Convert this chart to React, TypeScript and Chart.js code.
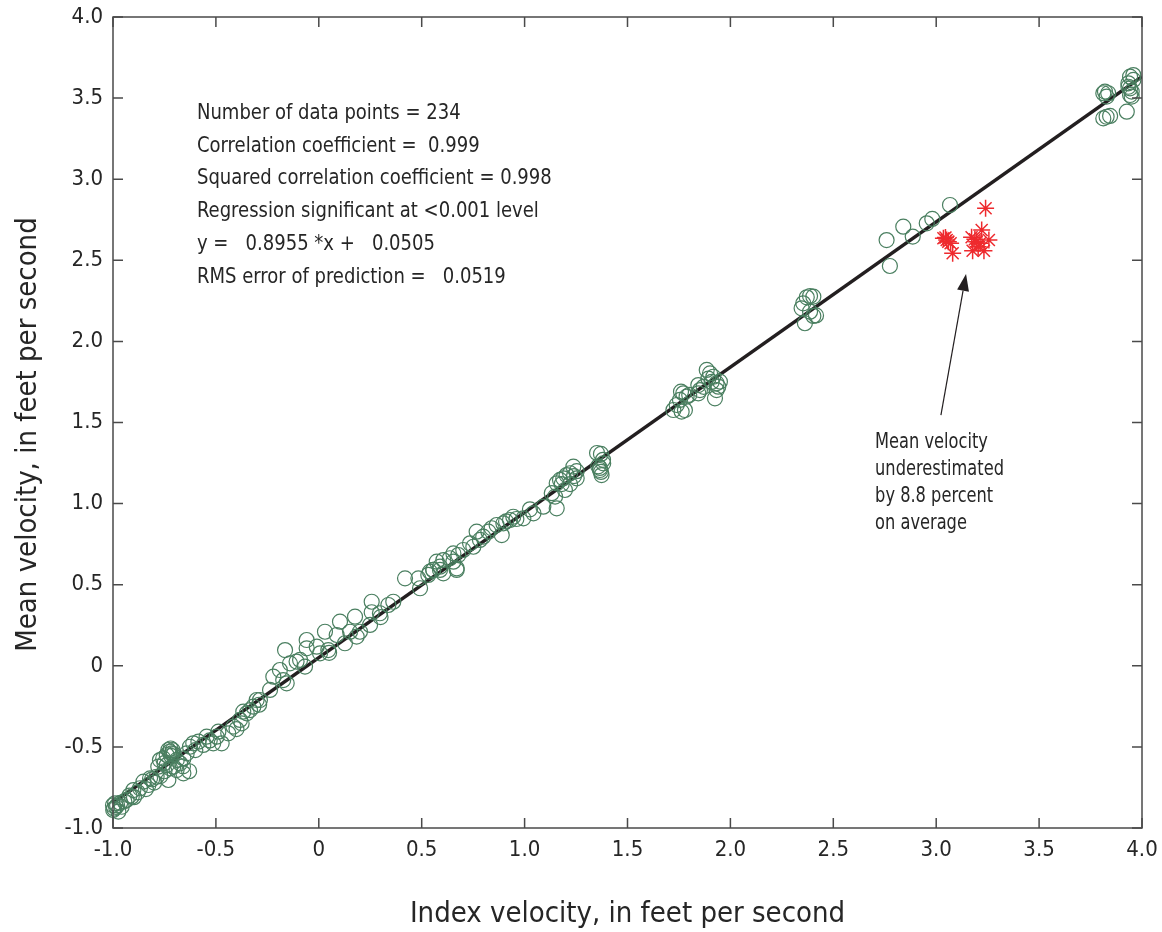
import React, { useEffect, useRef } from "react";
import { Chart, registerables } from "chart.js";

Chart.register(...registerables);

// ---- data ----
const greenX: number[] = [
  3.820, 3.836, 3.812, 3.828, 3.812, 3.828, 3.845, 3.926, 3.942, 3.958, 3.934, 3.942, 3.950, 3.942, 3.950, 3.934, 3.958,
  2.759, 2.775, 2.840, 2.886, 2.954, 2.981, 3.067,
  2.354, 2.387, 2.403, 2.346, 2.362, 2.403, 2.387, 2.371, 2.416,
  1.723, 1.739, 1.755, 1.771, 1.779, 1.763, 1.787, 1.800, 1.844, 1.852, 1.844, 1.885, 1.901, 1.917, 1.933, 1.925, 1.941, 1.893, 1.909, 1.949, 1.933, 1.760, 1.870,
  1.352, 1.371, 1.381, 1.366, 1.371, 1.366, 1.382, 1.374, 1.358,
  1.148, 1.156, 1.132, 1.156, 1.172, 1.188, 1.204, 1.221, 1.237, 1.253, 1.196, 1.221, 1.253, 1.180, 1.240,
  1.091, 1.043, 1.026, 0.994, 0.945, 0.929, 0.897, 0.864, 0.889, 0.840, 0.824, 0.767, 0.799, 0.783, 0.735, 0.751, 0.702, 0.678, 0.654, 0.637, 0.670, 0.605, 0.573, 0.589, 0.556, 0.540, 0.960, 0.910,
  -0.367, -0.334, -0.375, -0.286, -0.237, -0.221, -0.173, -0.189, -0.164, -0.140, -0.091, -0.067, -0.059, -0.059, -0.010, 0.006, 0.030, 0.046, 0.050, 0.087, 0.103, 0.127, 0.152, 0.176, 0.184, 0.200, 0.249, 0.257, 0.257, 0.297, 0.300, 0.338, 0.362, 0.419, 0.484, 0.492, 0.532, 0.556, 0.589, 0.605, 0.654, 0.670, -0.156, -0.108,
  -0.999, -0.990, -0.985, -0.974, -1.000, -0.958, -0.934, -0.909, -0.898, -0.901, -0.869, -0.852, -0.828, -0.820, -0.800, -0.788, -0.780, -0.772, -0.756, -0.739, -0.731, -0.720, -0.715, -0.710, -0.739, -0.723, -0.707, -0.731, -0.750, -0.691, -0.674, -0.658, -0.642, -0.626, -0.610, -0.600, -0.585, -0.561, -0.545, -0.530, -0.513, -0.496, -0.488, -0.472, -0.440, -0.415, -0.400, -0.383, -0.350, -0.318, -0.302, -0.290, -0.658, -0.630, -0.725, -0.718, -0.705, -0.995, -0.980, -0.965, -0.945, -0.920, -0.880, -0.840, -0.810, -0.770, -0.750, -0.690, -0.660,
];
const greenY: number[] = [
  3.540, 3.530, 3.530, 3.509, 3.375, 3.385, 3.390, 3.416, 3.632, 3.642, 3.591, 3.560, 3.540, 3.519, 3.509, 3.570, 3.612,
  2.625, 2.465, 2.707, 2.646, 2.728, 2.755, 2.841,
  2.235, 2.280, 2.276, 2.204, 2.112, 2.157, 2.183, 2.272, 2.160,
  1.577, 1.608, 1.639, 1.680, 1.577, 1.567, 1.659, 1.670, 1.731, 1.700, 1.680, 1.824, 1.803, 1.782, 1.742, 1.649, 1.721, 1.770, 1.750, 1.752, 1.700, 1.690, 1.720,
  1.312, 1.306, 1.270, 1.220, 1.195, 1.207, 1.248, 1.176, 1.230,
  1.043, 0.971, 1.064, 1.125, 1.146, 1.156, 1.176, 1.187, 1.228, 1.156, 1.084, 1.120, 1.200, 1.120, 1.170,
  0.981, 0.940, 0.965, 0.909, 0.919, 0.899, 0.878, 0.868, 0.806, 0.848, 0.827, 0.827, 0.796, 0.776, 0.755, 0.734, 0.714, 0.683, 0.693, 0.663, 0.601, 0.652, 0.642, 0.591, 0.591, 0.580, 0.905, 0.890,
  -0.283, -0.273, -0.355, -0.211, -0.149, -0.067, -0.088, -0.026, 0.097, 0.015, 0.036, -0.005, 0.159, 0.108, 0.118, 0.077, 0.210, 0.097, 0.080, 0.190, 0.272, 0.139, 0.210, 0.303, 0.180, 0.210, 0.252, 0.395, 0.330, 0.324, 0.300, 0.375, 0.395, 0.539, 0.539, 0.478, 0.560, 0.591, 0.611, 0.570, 0.642, 0.591, -0.108, 0.026,
  -0.889, -0.848, -0.870, -0.899, -0.860, -0.869, -0.827, -0.807, -0.810, -0.766, -0.755, -0.714, -0.735, -0.694, -0.720, -0.684, -0.622, -0.581, -0.571, -0.550, -0.519, -0.510, -0.540, -0.520, -0.612, -0.632, -0.622, -0.704, -0.650, -0.643, -0.601, -0.571, -0.540, -0.499, -0.478, -0.520, -0.468, -0.488, -0.437, -0.460, -0.478, -0.437, -0.406, -0.478, -0.416, -0.375, -0.390, -0.334, -0.293, -0.252, -0.211, -0.240, -0.663, -0.650, -0.530, -0.555, -0.545, -0.880, -0.860, -0.845, -0.835, -0.800, -0.780, -0.760, -0.700, -0.680, -0.600, -0.580, -0.620,
];
const redX: number[] = [3.035, 3.051, 3.059, 3.070, 3.080, 3.172, 3.188, 3.197, 3.213, 3.221, 3.232, 3.256, 3.177, 3.240, 3.204, 3.045];
const redY: number[] = [2.636, 2.625, 2.615, 2.605, 2.543, 2.642, 2.630, 2.615, 2.605, 2.687, 2.559, 2.625, 2.559, 2.821, 2.584, 2.640];
const fitX: number[] = [-1.0, 4.0];
const fitY: number[] = [-0.845, 3.632];

const tickValues: number[] = [-1.0, -0.5, 0, 0.5, 1.0, 1.5, 2.0, 2.5, 3.0, 3.5, 4.0];
const statsLines: string[] = [
  "Number of data points = 234",
  "Correlation coefficient =  0.999",
  "Squared correlation coefficient = 0.998",
  "Regression significant at <0.001 level",
  "y =   0.8955 *x +   0.0505",
  "RMS error of prediction =   0.0519",
];
const noteLines: string[] = ["Mean velocity", "underestimated", "by 8.8 percent", "on average"];
const yTitle = "Mean velocity, in feet per second";
const xTitle = "Index velocity, in feet per second";
const arrowFrom = { x: 3.023, y: 1.546 };
const arrowTo = { x: 3.145, y: 2.416 };

const FONT = '"DejaVu Sans Condensed", "Liberation Sans Narrow", Roboto, sans-serif';
const TEXT = "#262626";

const fmt = (v: number) => (Math.abs(v) < 1e-9 ? "0" : v.toFixed(1));

function narrowText(ctx: any, s: string, x: number, y: number, k: number) {
  ctx.save();
  ctx.translate(x, y);
  ctx.scale(k, 1);
  ctx.fillText(s, 0, 0);
  ctx.restore();
}

const decorPlugin = {
  id: "decor",
  afterDraw(chart: any) {
    const ctx = chart.ctx;
    const { left, right, top, bottom } = chart.chartArea;
    const xs = chart.scales.x;
    const ys = chart.scales.y;
    ctx.save();
    // frame
    ctx.strokeStyle = "#4a4a4a";
    ctx.lineWidth = 1.5;
    ctx.strokeRect(left, top, right - left, bottom - top);
    // inward ticks
    const tl = 10;
    ctx.beginPath();
    tickValues.forEach((v) => {
      const px = xs.getPixelForValue(v);
      ctx.moveTo(px, bottom);
      ctx.lineTo(px, bottom - tl);
      ctx.moveTo(px, top);
      ctx.lineTo(px, top + tl);
      const py = ys.getPixelForValue(v);
      ctx.moveTo(left, py);
      ctx.lineTo(left + tl, py);
      ctx.moveTo(right, py);
      ctx.lineTo(right - tl, py);
    });
    ctx.stroke();

    // y axis title (slightly below centre, as in the reference)
    ctx.fillStyle = TEXT;
    ctx.font = `29px ${FONT}`;
    ctx.textAlign = "center";
    ctx.textBaseline = "middle";
    ctx.save();
    ctx.translate(28, (top + bottom) / 2 + 12);
    ctx.rotate(-Math.PI / 2);
    ctx.fillText(yTitle, 0, 0);
    ctx.restore();

    // stats text
    ctx.font = `22px ${FONT}`;
    ctx.textAlign = "left";
    ctx.textBaseline = "middle";
    const sx = xs.getPixelForValue(-0.592);
    const sy0 = ys.getPixelForValue(3.408);
    statsLines.forEach((s, i) => narrowText(ctx, s, sx, sy0 + i * 32.8, 0.91));

    // note text
    ctx.font = `20.5px ${FONT}`;
    const nx = xs.getPixelForValue(2.703);
    const ny0 = ys.getPixelForValue(1.373);
    noteLines.forEach((s, i) => narrowText(ctx, s, nx, ny0 + i * 27, 0.88));

    // arrow
    const ax0 = xs.getPixelForValue(arrowFrom.x);
    const ay0 = ys.getPixelForValue(arrowFrom.y);
    const ax1 = xs.getPixelForValue(arrowTo.x);
    const ay1 = ys.getPixelForValue(arrowTo.y);
    const ang = Math.atan2(ay1 - ay0, ax1 - ax0);
    const hl = 17;
    const hw = 6;
    const bx = ax1 - hl * Math.cos(ang);
    const by = ay1 - hl * Math.sin(ang);
    ctx.strokeStyle = "#231f20";
    ctx.lineWidth = 1.2;
    ctx.beginPath();
    ctx.moveTo(ax0, ay0);
    ctx.lineTo(bx, by);
    ctx.stroke();
    ctx.fillStyle = "#231f20";
    ctx.beginPath();
    ctx.moveTo(ax1, ay1);
    ctx.lineTo(bx + hw * Math.sin(ang), by - hw * Math.cos(ang));
    ctx.lineTo(bx - hw * Math.sin(ang), by + hw * Math.cos(ang));
    ctx.closePath();
    ctx.fill();
    ctx.restore();
  },
};

const zeroPad = (s: any) => {
  s.paddingTop = 0;
  s.paddingBottom = 0;
  s.paddingLeft = 0;
  s.paddingRight = 0;
};

export default function App() {
  const ref = useRef<HTMLCanvasElement | null>(null);
  useEffect(() => {
    if (!ref.current) return;
    const green = greenX.map((x, i) => ({ x, y: greenY[i] }));
    const red = redX.map((x, i) => ({ x, y: redY[i] }));
    const fit = fitX.map((x, i) => ({ x, y: fitY[i] }));
    const chart = new Chart(ref.current, {
      type: "scatter",
      data: {
        datasets: [
          {
            label: "Measured",
            data: green,
            pointStyle: "circle",
            pointRadius: 7.5,
            pointBorderWidth: 1.2,
            borderColor: "#4a7f60",
            backgroundColor: "rgba(0,0,0,0)",
            clip: false as any,
          },
          {
            label: "Underestimated",
            data: red,
            pointStyle: "star",
            pointRadius: 8.5,
            pointBorderWidth: 1.5,
            borderColor: "#ee2a2e",
            backgroundColor: "#ee2a2e",
            clip: false as any,
          },
          {
            type: "line" as any,
            label: "Regression",
            data: fit,
            borderColor: "#231f20",
            borderWidth: 3.5,
            pointRadius: 0,
            fill: false,
          },
        ],
      },
      options: {
        responsive: false,
        animation: false,
        layout: { padding: { top: 17, right: 20, left: 0, bottom: 0 } },
        plugins: { legend: { display: false }, tooltip: { enabled: false } },
        scales: {
          x: {
            type: "linear",
            min: -1,
            max: 4,
            afterBuildTicks: (s: any) => {
              s.ticks = tickValues.map((v) => ({ value: v }));
            },
            afterFit: (s: any) => {
              s.height = 104;
              zeroPad(s);
            },
            grid: { display: false, drawTicks: false },
            border: { display: false },
            ticks: {
              padding: 9,
              color: TEXT,
              font: { family: FONT, size: 22 },
              callback: (v: any) => fmt(Number(v)),
              maxRotation: 0,
              autoSkip: false,
            },
            title: {
              display: true,
              text: xTitle,
              color: TEXT,
              font: { family: FONT, size: 29 },
              padding: { top: 0, bottom: 0 },
            },
          },
          y: {
            type: "linear",
            min: -1,
            max: 4,
            afterBuildTicks: (s: any) => {
              s.ticks = tickValues.map((v) => ({ value: v }));
            },
            afterFit: (s: any) => {
              s.width = 113;
              zeroPad(s);
            },
            grid: { display: false, drawTicks: false },
            border: { display: false },
            ticks: {
              padding: 10,
              color: TEXT,
              font: { family: FONT, size: 22 },
              callback: (v: any) => fmt(Number(v)),
              autoSkip: false,
            },
            title: { display: false },
          },
        },
      },
      plugins: [decorPlugin],
    });
    return () => chart.destroy();
  }, []);
  return (
    <div style={{ position: "fixed", left: 0, top: 0, width: 1162, height: 932, background: "#fff" }}>
      <canvas ref={ref} width={1162} height={932} />
    </div>
  );
}
